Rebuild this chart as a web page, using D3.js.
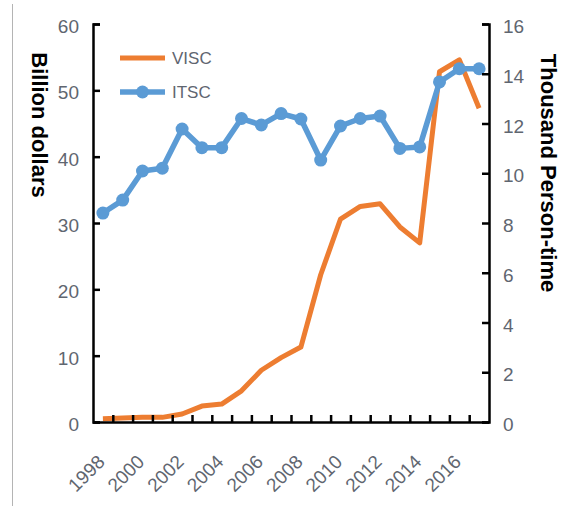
<!DOCTYPE html>
<html>
<head>
<meta charset="utf-8">
<script src="https://cdn.jsdelivr.net/npm/d3@7"></script>
<style>
  body { margin: 0; background: #fff; }
  svg { display: block; font-family: "Liberation Sans", Arial, sans-serif; }
</style>
</head>
<body>
<script>
const WIDTH = 566
const HEIGHT = 506

// Data
const years = d3.range(1998, 2018)
const visc = [0.5, 0.6, 0.7, 0.7, 1.2, 2.4, 2.7, 4.7, 7.8, 9.7, 11.3, 22.2, 30.6, 32.5, 32.9, 29.4, 27.0, 52.8, 54.6, 47.3]
const itsc = [8.4, 8.92, 10.09, 10.2, 11.78, 11.03, 11.03, 12.2, 11.94, 12.4, 12.18, 10.53, 11.9, 12.2, 12.3, 11.0, 11.06, 13.67, 14.2, 14.2]
const leftTicks = [0, 10, 20, 30, 40, 50, 60]
const rightTicks = [0, 2, 4, 6, 8, 10, 12, 14, 16]
const labelYears = [1998, 2000, 2002, 2004, 2006, 2008, 2010, 2012, 2014, 2016]

const ORANGE = "#ed7d31"
const BLUE = "#5b9bd5"
const TICK_COLOR = "#5f6670"

// Constants
const margin = { top: 24, right: 77, bottom: 84, left: 93 }
const x0 = margin.left, x1 = WIDTH - margin.right
const yBottom = HEIGHT - margin.bottom

const x = d3.scaleBand().domain(years).range([x0, x1]).padding(0)
const xBounds = d3.scaleLinear().domain([0, years.length]).range([x0, x1])
const yLeft = d3.scaleLinear().domain([0, 60]).range([yBottom, margin.top])
const yRight = d3.scaleLinear().domain([0, 16]).range([yBottom, margin.top])
const cx = d => x(d) + x.bandwidth() / 2

// Render
const svg = d3.select("body").append("svg")
  .attr("width", WIDTH)
  .attr("height", HEIGHT)

// frame line on the left edge
svg.append("line")
  .attr("x1", 12.5).attr("x2", 12.5)
  .attr("y1", 4).attr("y2", HEIGHT)
  .attr("stroke", "#b4b4b4")
  .attr("stroke-width", 1)

// series
const lineV = d3.line().x((d, i) => cx(years[i])).y(d => yLeft(d))
const lineI = d3.line().x((d, i) => cx(years[i])).y(d => yRight(d))

svg.append("path")
  .datum(visc)
  .attr("fill", "none")
  .attr("stroke", ORANGE)
  .attr("stroke-width", 5)
  .attr("stroke-linejoin", "round")
  .attr("d", lineV)

svg.append("path")
  .datum(itsc)
  .attr("fill", "none")
  .attr("stroke", BLUE)
  .attr("stroke-width", 5.5)
  .attr("stroke-linejoin", "round")
  .attr("d", lineI)

svg.append("g")
  .selectAll("circle")
  .data(itsc)
  .join("circle")
    .attr("cx", (d, i) => cx(years[i]))
    .attr("cy", d => yRight(d))
    .attr("r", 6.5)
    .attr("fill", BLUE)

// axes
const styleAxis = g => {
  g.select(".domain").attr("stroke", "#000").attr("stroke-width", 2.5)
  g.selectAll(".tick line").attr("stroke", "#000").attr("stroke-width", 2.5)
  g.selectAll(".tick text").attr("fill", TICK_COLOR).attr("font-size", 19)
}

svg.append("g")
  .attr("transform", `translate(${x0},0)`)
  .call(d3.axisLeft(yLeft).tickValues(leftTicks).tickSizeInner(-7).tickSizeOuter(-7).tickPadding(14))
  .call(styleAxis)
  .call(g => g.selectAll(".tick text").attr("dy", "0.45em"))

svg.append("g")
  .attr("transform", `translate(${x1},0)`)
  .call(d3.axisRight(yRight).tickValues(rightTicks).tickSizeInner(-7).tickSizeOuter(-7).tickPadding(14))
  .call(styleAxis)
  .call(g => g.selectAll(".tick text").attr("dy", "0.45em"))

svg.append("g")
  .attr("transform", `translate(0,${yBottom})`)
  .call(d3.axisBottom(xBounds).tickValues(d3.range(1, years.length)).tickFormat("").tickSizeInner(-7).tickSizeOuter(0))
  .call(styleAxis)

svg.append("g")
  .attr("transform", `translate(0,${yBottom})`)
  .call(d3.axisBottom(x).tickValues(labelYears).tickSize(0))
  .call(g => g.select(".domain").remove())
  .call(g => g.selectAll(".tick text")
    .attr("fill", TICK_COLOR)
    .attr("font-size", 19)
    .attr("text-anchor", "end")
    .attr("x", 0).attr("y", 0).attr("dy", 0)
    .attr("transform", "translate(3,41) rotate(-45)"))

// axis titles
svg.append("text")
  .attr("transform", "translate(39,125) rotate(90)")
  .attr("text-anchor", "middle")
  .attr("dominant-baseline", "central")
  .attr("font-size", 22)
  .attr("font-weight", "bold")
  .attr("fill", "#000")
  .text("Billion dollars")

svg.append("text")
  .attr("transform", "translate(548,173) rotate(90)")
  .attr("text-anchor", "middle")
  .attr("dominant-baseline", "central")
  .attr("font-size", 22)
  .attr("font-weight", "bold")
  .attr("fill", "#000")
  .text("Thousand Person-time")

// legend
const legend = svg.append("g").attr("font-size", 17).attr("fill", TICK_COLOR)
legend.append("line")
  .attr("x1", 120).attr("x2", 165).attr("y1", 58).attr("y2", 58)
  .attr("stroke", ORANGE).attr("stroke-width", 5)
legend.append("text").attr("x", 172).attr("y", 58).attr("dy", "0.36em").text("VISC")
legend.append("line")
  .attr("x1", 120).attr("x2", 165).attr("y1", 92).attr("y2", 92)
  .attr("stroke", BLUE).attr("stroke-width", 5.5)
legend.append("circle").attr("cx", 142.5).attr("cy", 92).attr("r", 6.5).attr("fill", BLUE)
legend.append("text").attr("x", 172).attr("y", 92).attr("dy", "0.36em").text("ITSC")
</script>
</body>
</html>
